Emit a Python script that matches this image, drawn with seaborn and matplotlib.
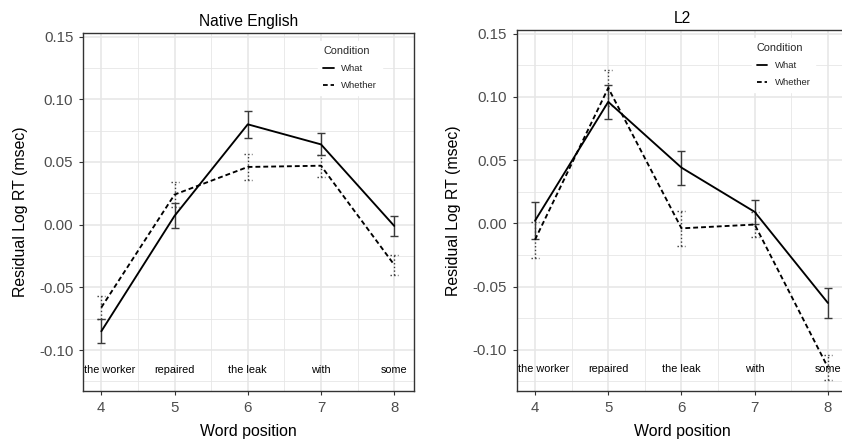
import numpy as np
import pandas as pd
import matplotlib
matplotlib.use("Agg")
import matplotlib.pyplot as plt
from matplotlib.ticker import MultipleLocator
import seaborn as sns

# ---------------- data ----------------
positions = [4, 5, 6, 7, 8]
words = ["the worker", "repaired", "the leak", "with", "some"]
word_x = [4.12, 5, 6, 7, 8]
word_y = -0.1155
conditions = ["What", "Whether"]

native_what = [-0.085, 0.007, 0.080, 0.064, -0.001]
native_what_se = [0.0095, 0.010, 0.011, 0.0087, 0.0079]
native_whether = [-0.066, 0.024, 0.046, 0.047, -0.032]
native_whether_se = [0.0095, 0.0097, 0.0107, 0.0088, 0.0078]

l2_what = [0.002, 0.096, 0.044, 0.009, -0.063]
l2_what_se = [0.0148, 0.0136, 0.0134, 0.0095, 0.0119]
l2_whether = [-0.013, 0.107, -0.004, -0.001, -0.114]
l2_whether_se = [0.0142, 0.0145, 0.0137, 0.0100, 0.0097]

panels = [
    ("Native English", native_what, native_what_se, native_whether, native_whether_se),
    ("L2", l2_what, l2_what_se, l2_whether, l2_whether_se),
]

# ---------------- style ----------------
sns.set_theme(style="white")
plt.rcParams["font.family"] = ["Liberation Sans", "DejaVu Sans"]

fig = plt.figure(figsize=(8.42, 4.45), dpi=100)
W, H = 842.0, 445.0
ax_boxes = [
    (83 / W, 1 - 391 / H, 331 / W, 358 / H),
    (516.7 / W, 1 - 391 / H, 331 / W, 361 / H),
]
legend_anchor = [(0.697, 0.99), (0.697, 0.99)]

grid_col = "#e6e6e6"
dark = "#333333"
tick_col = "#4d4d4d"

for (title, what, what_se, wh, wh_se), box, anc in zip(panels, ax_boxes, legend_anchor):
    ax = fig.add_axes(box)
    df = pd.DataFrame({
        "pos": positions * 2,
        "rt": list(what) + list(wh),
        "se": list(what_se) + list(wh_se),
        "Condition": ["What"] * len(positions) + ["Whether"] * len(positions),
    })

    # error bars
    for cond, ls, col in [("What", "-", "#3a3a3a"), ("Whether", ":", "#3a3a3a")]:
        d = df[df["Condition"] == cond]
        ax.vlines(d["pos"], d["rt"] - d["se"], d["rt"] + d["se"],
                  colors=col, linestyles=ls, linewidth=1.0, zorder=3)
        for ends in (d["rt"] - d["se"], d["rt"] + d["se"]):
            ax.hlines(ends, d["pos"] - 0.055, d["pos"] + 0.055,
                      colors=col, linestyles=ls, linewidth=1.0, zorder=3)

    sns.lineplot(data=df, x="pos", y="rt", style="Condition",
                 style_order=conditions,
                 dashes={"What": "", "Whether": (2.6, 1.6)},
                 color="black", linewidth=1.35, ax=ax, zorder=4,
                 errorbar=None, sort=False)

    # word labels
    for wx, w in zip(word_x, words):
        ax.text(wx, word_y, w, ha="center", va="center", fontsize=7.8,
                color="black", zorder=5)

    ax.set_xlim(3.75, 8.27)
    ax.set_ylim(-0.1326, 0.1528)
    ax.xaxis.set_major_locator(MultipleLocator(1))
    ax.xaxis.set_minor_locator(MultipleLocator(0.5))
    ax.yaxis.set_major_locator(MultipleLocator(0.05))
    ax.yaxis.set_minor_locator(MultipleLocator(0.025))
    ax.set_yticks([0.15, 0.10, 0.05, 0.0, -0.05, -0.10])
    ax.set_yticklabels(["0.15", "0.10", "0.05", "0.00", "-0.05", "-0.10"])
    ax.grid(True, which="major", color=grid_col, linewidth=1.1, zorder=0)
    ax.grid(True, which="minor", color=grid_col, linewidth=0.6, zorder=0)
    ax.set_axisbelow(True)
    for s in ax.spines.values():
        s.set_visible(True)
        s.set_color(dark)
        s.set_linewidth(1.0)
    ax.tick_params(axis="both", which="major", length=3, width=0.8,
                   color=dark, labelsize=10.8, labelcolor=tick_col,
                   bottom=True, left=True, pad=4)
    ax.tick_params(axis="both", which="minor", length=0)

    ax.set_title(title, fontsize=11.2, color="black", pad=5)
    ax.set_xlabel("Word position", fontsize=11.4, color="black", labelpad=7)
    ax.set_ylabel("Residual Log RT (msec)", fontsize=11.4, color="black", labelpad=8)

    sns.move_legend(ax, loc="upper left", bbox_to_anchor=anc,
                    title="Condition", frameon=True, fontsize=6.8,
                    title_fontsize=7.8, handlelength=1.1, handletextpad=0.8,
                    labelspacing=0.85, borderpad=0.5, alignment="left")
    leg = ax.get_legend()
    leg.get_frame().set_facecolor("white")
    leg.get_frame().set_edgecolor("white")
    leg.get_frame().set_alpha(1.0)
    for ln in leg.get_lines():
        ln.set_linewidth(1.3)

fig.savefig("out.png", dpi=100)
